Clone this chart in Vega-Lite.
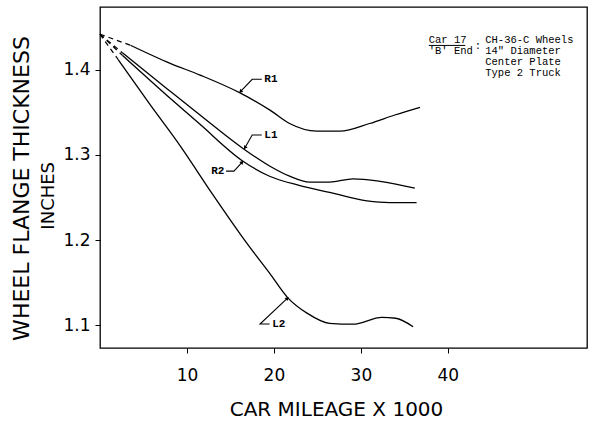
{
  "$schema": "https://vega.github.io/schema/vega-lite/v6.json",
  "width": 487,
  "height": 341,
  "autosize": {"type": "none"},
  "padding": {"left": 100, "top": 7, "right": 5, "bottom": 73},
  "background": "white",
  "config": {
    "view": {"stroke": "black", "strokeWidth": 1.3},
    "axis": {
      "grid": false,
      "domain": false,
      "tickColor": "black",
      "tickSize": 5,
      "labelColor": "black",
      "titleColor": "black",
      "labelFont": "DejaVu Sans",
      "titleFont": "DejaVu Sans",
      "titleFontWeight": "normal"
    }
  },
  "datasets": {
    "curves": [
      {"series": "R1", "part": "lead", "x": 0, "y": 1.442},
      {"series": "R1", "part": "lead", "x": 3.5, "y": 1.429},
      {"series": "R1", "part": "main", "x": 3.5, "y": 1.429},
      {"series": "R1", "part": "main", "x": 8.0, "y": 1.408},
      {"series": "R1", "part": "main", "x": 11.5, "y": 1.394},
      {"series": "R1", "part": "main", "x": 16.1, "y": 1.373},
      {"series": "R1", "part": "main", "x": 19.5, "y": 1.353},
      {"series": "R1", "part": "main", "x": 21.8, "y": 1.337},
      {"series": "R1", "part": "main", "x": 24.9, "y": 1.328},
      {"series": "R1", "part": "main", "x": 27.6, "y": 1.328},
      {"series": "R1", "part": "main", "x": 31.0, "y": 1.337},
      {"series": "R1", "part": "main", "x": 33.9, "y": 1.347},
      {"series": "R1", "part": "main", "x": 36.8, "y": 1.356},
      {"series": "L1", "part": "lead", "x": 0, "y": 1.442},
      {"series": "L1", "part": "lead", "x": 2.6, "y": 1.42},
      {"series": "L1", "part": "main", "x": 2.6, "y": 1.42},
      {"series": "L1", "part": "main", "x": 7.7, "y": 1.378},
      {"series": "L1", "part": "main", "x": 11.5, "y": 1.347},
      {"series": "L1", "part": "main", "x": 16.4, "y": 1.308},
      {"series": "L1", "part": "main", "x": 19.5, "y": 1.287},
      {"series": "L1", "part": "main", "x": 21.8, "y": 1.275},
      {"series": "L1", "part": "main", "x": 24.1, "y": 1.268},
      {"series": "L1", "part": "main", "x": 26.4, "y": 1.268},
      {"series": "L1", "part": "main", "x": 29.1, "y": 1.272},
      {"series": "L1", "part": "main", "x": 32.2, "y": 1.269},
      {"series": "L1", "part": "main", "x": 36.2, "y": 1.261},
      {"series": "R2", "part": "lead", "x": 0, "y": 1.442},
      {"series": "R2", "part": "lead", "x": 2.6, "y": 1.417},
      {"series": "R2", "part": "main", "x": 2.6, "y": 1.417},
      {"series": "R2", "part": "main", "x": 7.7, "y": 1.370},
      {"series": "R2", "part": "main", "x": 11.5, "y": 1.336},
      {"series": "R2", "part": "main", "x": 16.4, "y": 1.293},
      {"series": "R2", "part": "main", "x": 19.5, "y": 1.275},
      {"series": "R2", "part": "main", "x": 23.0, "y": 1.264},
      {"series": "R2", "part": "main", "x": 26.4, "y": 1.256},
      {"series": "R2", "part": "main", "x": 30.7, "y": 1.246},
      {"series": "R2", "part": "main", "x": 33.3, "y": 1.244},
      {"series": "R2", "part": "main", "x": 36.4, "y": 1.244},
      {"series": "L2", "part": "lead", "x": 0, "y": 1.442},
      {"series": "L2", "part": "lead", "x": 2.1, "y": 1.412},
      {"series": "L2", "part": "main", "x": 2.1, "y": 1.412},
      {"series": "L2", "part": "main", "x": 5.7, "y": 1.36},
      {"series": "L2", "part": "main", "x": 9.2, "y": 1.311},
      {"series": "L2", "part": "main", "x": 13.0, "y": 1.253},
      {"series": "L2", "part": "main", "x": 16.9, "y": 1.196},
      {"series": "L2", "part": "main", "x": 19.5, "y": 1.161},
      {"series": "L2", "part": "main", "x": 21.6, "y": 1.132},
      {"series": "L2", "part": "main", "x": 23.8, "y": 1.114},
      {"series": "L2", "part": "main", "x": 26.4, "y": 1.102},
      {"series": "L2", "part": "main", "x": 29.1, "y": 1.101},
      {"series": "L2", "part": "main", "x": 32.4, "y": 1.109},
      {"series": "L2", "part": "main", "x": 34.0, "y": 1.108},
      {"series": "L2", "part": "main", "x": 36.0, "y": 1.098}
    ],
    "leaders": [
      {"label": "R1", "i": 1, "x": 18.6, "y": 1.389},
      {"label": "R1", "i": 2, "x": 17.5, "y": 1.389},
      {"label": "R1", "i": 3, "x": 16.2, "y": 1.375},
      {"label": "L1", "i": 1, "x": 18.6, "y": 1.3235},
      {"label": "L1", "i": 2, "x": 17.5, "y": 1.3235},
      {"label": "L1", "i": 3, "x": 16.7, "y": 1.309},
      {"label": "R2", "i": 1, "x": 14.5, "y": 1.281},
      {"label": "R2", "i": 2, "x": 15.4, "y": 1.281},
      {"label": "R2", "i": 3, "x": 16.3, "y": 1.291},
      {"label": "L2", "i": 1, "x": 19.5, "y": 1.1012},
      {"label": "L2", "i": 2, "x": 18.4, "y": 1.1012},
      {"label": "L2", "i": 3, "x": 21.5, "y": 1.131}
    ],
    "labels": [
      {"label": "R1", "x": 18.9, "y": 1.389, "side": "left"},
      {"label": "L1", "x": 18.9, "y": 1.3235, "side": "left"},
      {"label": "R2", "x": 14.3, "y": 1.281, "side": "right"},
      {"label": "L2", "x": 19.8, "y": 1.1012, "side": "left"}
    ],
    "one": [{"k": 1}]
  },
  "layer": [
    {
      "data": {"name": "curves"},
      "transform": [{"filter": "datum.part === 'lead'"}],
      "mark": {"type": "line", "color": "black", "strokeWidth": 1.2, "strokeDash": [5, 4]},
      "encoding": {
        "x": {
          "field": "x",
          "type": "quantitative",
          "scale": {"domain": [0, 56], "nice": false, "zero": false},
          "axis": {
            "values": [10, 20, 30, 40],
            "title": "CAR MILEAGE X 1000",
            "labelFontSize": 17,
            "labelPadding": 14,
            "titleFontSize": 20,
            "titlePadding": 16,
            "titleX": 236,
            "titleAlign": "center",
            "titleAnchor": null
          }
        },
        "y": {
          "field": "y",
          "type": "quantitative",
          "scale": {"domain": [1.073, 1.474], "nice": false, "zero": false},
          "axis": {
            "values": [1.1, 1.2, 1.3, 1.4],
            "format": ".1f",
            "title": "WHEEL FLANGE THICKNESS",
            "labelFontSize": 17,
            "labelPadding": 5,
            "titleFontSize": 22,
            "titleAngle": -90,
            "titleAlign": "center",
            "titleBaseline": "middle",
            "titleX": -79,
            "titleY": 181
          }
        },
        "detail": {"field": "series"}
      }
    },
    {
      "data": {"name": "curves"},
      "transform": [{"filter": "datum.part === 'main'"}],
      "mark": {"type": "line", "color": "black", "strokeWidth": 1.3, "interpolate": "monotone"},
      "encoding": {
        "x": {"field": "x", "type": "quantitative"},
        "y": {"field": "y", "type": "quantitative"},
        "detail": {"field": "series"}
      }
    },
    {
      "data": {"name": "leaders"},
      "mark": {"type": "line", "color": "black", "strokeWidth": 1.1},
      "encoding": {
        "x": {"field": "x", "type": "quantitative"},
        "y": {"field": "y", "type": "quantitative"},
        "detail": {"field": "label"},
        "order": {"field": "i"}
      }
    },
    {
      "data": {"name": "leaders"},
      "transform": [{"filter": "datum.i === 3 && datum.label === 'R1'"}],
      "mark": {"type": "point", "shape": "triangle", "filled": true, "color": "black", "size": 18, "angle": 225, "opacity": 1},
      "encoding": {"x": {"field": "x", "type": "quantitative"}, "y": {"field": "y", "type": "quantitative"}}
    },
    {
      "data": {"name": "leaders"},
      "transform": [{"filter": "datum.i === 3 && datum.label === 'L1'"}],
      "mark": {"type": "point", "shape": "triangle", "filled": true, "color": "black", "size": 18, "angle": 214, "opacity": 1},
      "encoding": {"x": {"field": "x", "type": "quantitative"}, "y": {"field": "y", "type": "quantitative"}}
    },
    {
      "data": {"name": "leaders"},
      "transform": [{"filter": "datum.i === 3 && datum.label === 'R2'"}],
      "mark": {"type": "point", "shape": "triangle", "filled": true, "color": "black", "size": 18, "angle": 42, "opacity": 1},
      "encoding": {"x": {"field": "x", "type": "quantitative"}, "y": {"field": "y", "type": "quantitative"}}
    },
    {
      "data": {"name": "leaders"},
      "transform": [{"filter": "datum.i === 3 && datum.label === 'L2'"}],
      "mark": {"type": "point", "shape": "triangle", "filled": true, "color": "black", "size": 18, "angle": 47, "opacity": 1},
      "encoding": {"x": {"field": "x", "type": "quantitative"}, "y": {"field": "y", "type": "quantitative"}}
    },
    {
      "data": {"name": "labels"},
      "transform": [{"filter": "datum.side === 'left'"}],
      "mark": {"type": "text", "align": "left", "baseline": "middle", "font": "Liberation Mono", "fontSize": 11, "fontWeight": "bold", "color": "black"},
      "encoding": {
        "x": {"field": "x", "type": "quantitative"},
        "y": {"field": "y", "type": "quantitative"},
        "text": {"field": "label"}
      }
    },
    {
      "data": {"name": "labels"},
      "transform": [{"filter": "datum.side === 'right'"}],
      "mark": {"type": "text", "align": "right", "baseline": "middle", "font": "Liberation Mono", "fontSize": 11, "fontWeight": "bold", "color": "black"},
      "encoding": {
        "x": {"field": "x", "type": "quantitative"},
        "y": {"field": "y", "type": "quantitative"},
        "text": {"field": "label"}
      }
    },
    {
      "data": {"name": "one"},
      "mark": {"type": "text", "align": "left", "baseline": "middle", "font": "Liberation Mono", "fontSize": 10.5, "color": "black", "lineHeight": 11.5, "text": ["Car 17", "'B' End"]},
      "encoding": {"x": {"datum": 37.8, "type": "quantitative"}, "y": {"datum": 1.4353, "type": "quantitative"}}
    },
    {
      "data": {"name": "one"},
      "mark": {"type": "text", "align": "left", "baseline": "middle", "font": "Liberation Mono", "fontSize": 10.5, "color": "black", "text": ":"},
      "encoding": {"x": {"datum": 43.1, "type": "quantitative"}, "y": {"datum": 1.428, "type": "quantitative"}}
    },
    {
      "data": {"name": "one"},
      "mark": {"type": "text", "align": "left", "baseline": "middle", "font": "Liberation Mono", "fontSize": 10.5, "color": "black", "lineHeight": 11, "text": ["CH-36-C Wheels", "14\" Diameter", "Center Plate", "Type 2 Truck"]},
      "encoding": {"x": {"datum": 44.3, "type": "quantitative"}, "y": {"datum": 1.4353, "type": "quantitative"}}
    },
    {
      "data": {"name": "one"},
      "mark": {"type": "rule", "color": "black", "strokeWidth": 1},
      "encoding": {"x": {"datum": 37.8, "type": "quantitative"}, "x2": {"datum": 42.0}, "y": {"datum": 1.4288, "type": "quantitative"}}
    },
    {
      "data": {"name": "one"},
      "mark": {"type": "text", "angle": 270, "align": "center", "baseline": "middle", "font": "DejaVu Sans", "fontSize": 18, "color": "black", "text": "INCHES"},
      "encoding": {"x": {"datum": -5.9, "type": "quantitative"}, "y": {"datum": 1.252, "type": "quantitative"}}
    }
  ]
}
